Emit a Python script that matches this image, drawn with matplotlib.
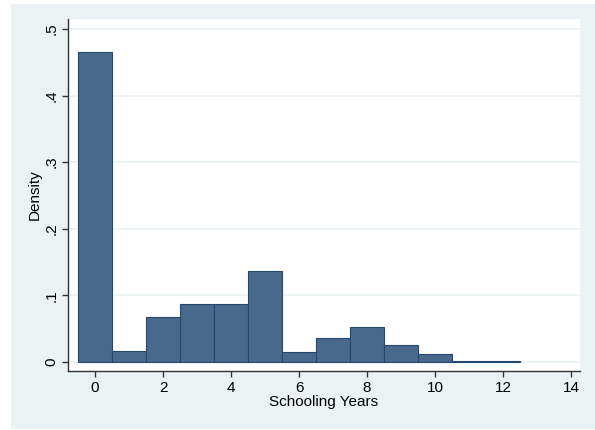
import matplotlib
matplotlib.use("Agg")
import matplotlib.pyplot as plt
from matplotlib.patches import Rectangle

plt.rcParams['font.family'] = ['Liberation Sans', 'DejaVu Sans']

# histogram of schooling years (bin width 1, centred on integers)
years = [0, 1, 2, 3, 4, 5, 6, 7, 8, 9, 10, 11, 12]
density = [0.466, 0.0156, 0.0668, 0.0863, 0.0868, 0.1368, 0.015,
           0.036, 0.0522, 0.0246, 0.0116, 0.0009, 0.0009]
yticks = [0, 0.1, 0.2, 0.3, 0.4, 0.5]
ylabels = ['0', '.1', '.2', '.3', '.4', '.5']
xticks = [0, 2, 4, 6, 8, 10, 12, 14]

fig = plt.figure(figsize=(5.95, 4.3), dpi=100)
fig.patch.set_facecolor('white')
fig.patches.append(Rectangle((11/595, 1/430), 584/595, 425/430,
                             transform=fig.transFigure, facecolor='#EAF2F3',
                             edgecolor='none', zorder=-10))

ax = fig.add_axes([68/595, 1 - 371/430, 512/595, 352/430])
ax.set_facecolor('white')
ax.bar(years, density, width=1, color='#48698C', edgecolor='#24476E',
       linewidth=0.8, zorder=3)

ax.set_xlim(-0.794, 14.26)
ax.set_ylim(-0.0139, 0.515)
ax.set_yticks(yticks)
ax.set_yticklabels(ylabels, rotation=90, va='center')
ax.set_xticks(xticks)
ax.grid(axis='y', color='#EAF2F3', linewidth=1.2, zorder=0)

for s in ['top', 'right']:
    ax.spines[s].set_visible(False)
for s in ['left', 'bottom']:
    ax.spines[s].set_color('#333333')
    ax.spines[s].set_linewidth(1)
ax.tick_params(direction='out', length=4, width=1, color='#333333',
               labelsize=11, pad=3)

ax.set_xlabel('Schooling Years', fontsize=11, labelpad=0)
ax.set_ylabel('Density', fontsize=11, labelpad=2)

fig.savefig('out.png', dpi=100)
